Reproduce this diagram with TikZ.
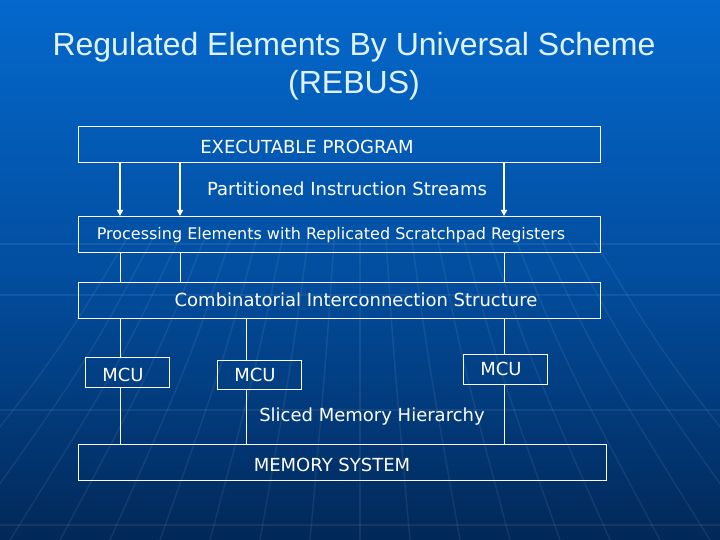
\documentclass[tikz,border=0pt]{standalone}
\usepackage{fontspec}
\setmainfont{Liberation Sans}
\newfontfamily\boxfont{DejaVu Sans}
\usetikzlibrary{arrows.meta}
\definecolor{bgtop}{RGB}{4,104,204}
\definecolor{bgmid}{RGB}{2,78,160}
\definecolor{bgbot}{RGB}{2,40,88}
\definecolor{titlecol}{RGB}{222,242,255}
\begin{document}
\begin{tikzpicture}[x=1pt,y=-1pt,
  box/.style={draw=white, line width=1.2pt, anchor=north west, inner sep=0pt},
  lbl/.style={text=white, font=\boxfont\fontsize{18}{21}\selectfont, inner sep=0pt},
  conn/.style={draw=white, line width=1pt},
  arr/.style={draw=white, line width=1.8pt, -{Triangle[width=6pt,length=6pt]}},
  faint/.style={draw=white, opacity=0.07, line width=1.5pt}
]
% background
\useasboundingbox (0,0) rectangle (720,540);
\shade[top color=bgtop, bottom color=bgbot, middle color=bgmid] (0,0) rectangle (720,540);
% faint texture
\foreach \yy in {244,295,410,525} {\draw[faint] (0,\yy) -- (720,\yy);}
\foreach \k in {-9,...,9} {
  \draw[faint] (360+\k*26,240) .. controls (360+\k*34,360) .. (360+\k*50,540);
}
% title
\node[text=titlecol, font=\fontsize{32}{38}\selectfont, align=center, inner sep=0pt] (title) at (354,66)
  {Regulated Elements By Universal Scheme\\(REBUS)};
% boxes
\node[box, minimum width=522pt, minimum height=36pt] (exec) at (78,126) {};
\node[box, minimum width=522pt, minimum height=36pt] (pe) at (78,216) {};
\node[box, minimum width=522pt, minimum height=36pt] (cis) at (78,282) {};
\node[box, minimum width=84pt, minimum height=30pt] (m1) at (85,357) {};
\node[box, minimum width=84pt, minimum height=29pt] (m2) at (217,360) {};
\node[box, minimum width=84pt, minimum height=30pt] (m3) at (463,354) {};
\node[box, minimum width=528pt, minimum height=36pt] (mem) at (78,444) {};
% labels
\node[lbl] (tExec) at (307,147) {EXECUTABLE PROGRAM};
\node[lbl] (tPis) at (347,189) {Partitioned Instruction Streams};
\node[lbl, font=\boxfont\fontsize{16}{19}\selectfont] (tPe) at (331,235) {Processing Elements with Replicated Scratchpad Registers};
\node[lbl] (tCis) at (356,300) {Combinatorial Interconnection Structure};
\node[lbl] (tM1) at (123,375) {MCU};
\node[lbl] (tM2) at (255,375) {MCU};
\node[lbl] (tM3) at (501,369) {MCU};
\node[lbl] (tSmh) at (372,417) {Sliced Memory Hierarchy};
\node[lbl] (tMem) at (332,465) {MEMORY SYSTEM};
% columns
\coordinate (c1) at (120,0);
\coordinate (c2) at (180,0);
\coordinate (c3) at (504,0);
\coordinate (c4) at (246,0);
% arrows
\foreach \c in {c1,c2,c3} {
  \draw[arr] (exec.south -| \c) -- (pe.north -| \c);
  \draw[conn] (pe.south -| \c) -- (cis.north -| \c);
}
\draw[conn] (cis.south -| c1) -- (m1.north -| c1);
\draw[conn] (cis.south -| c4) -- (m2.north -| c4);
\draw[conn] (cis.south -| c3) -- (m3.north -| c3);
\draw[conn] (m1.south -| c1) -- (mem.north -| c1);
\draw[conn] (m2.south -| c4) -- (mem.north -| c4);
\draw[conn] (m3.south -| c3) -- (mem.north -| c3);
\end{tikzpicture}
\end{document}
